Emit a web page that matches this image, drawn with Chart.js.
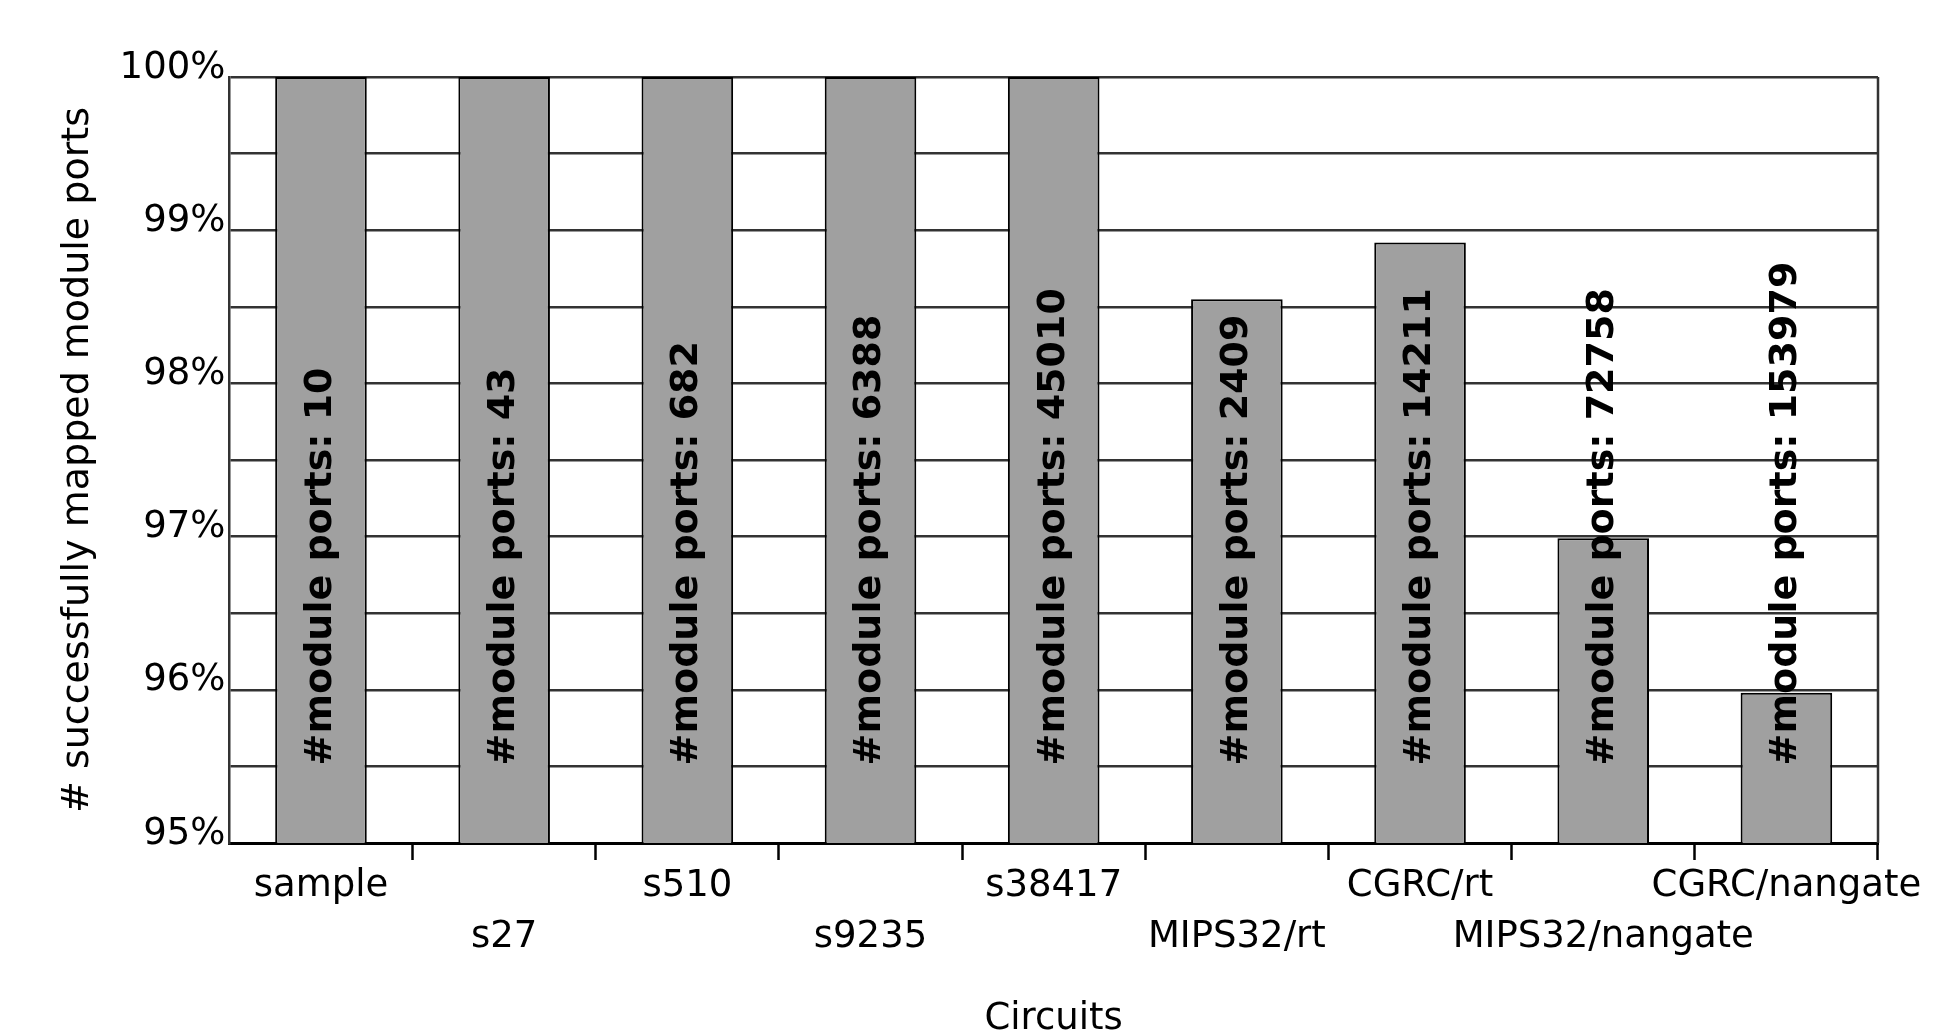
<!DOCTYPE html>
<html>
<head>
<meta charset="utf-8">
<script src="https://cdn.jsdelivr.net/npm/chart.js@4/dist/chart.umd.min.js"></script>
<style>
  body { margin: 0; background: #fff; }
</style>
</head>
<body>
<canvas id="c" width="1936" height="1033"></canvas>
<script>
// data
const circuits = ['sample', 's27', 's510', 's9235', 's38417', 'MIPS32/rt', 'CGRC/rt', 'MIPS32/nangate', 'CGRC/nangate'];
const mappedPct = [100, 100, 100, 100, 100, 98.55, 98.92, 96.99, 95.98];
const modulePorts = [10, 43, 682, 6388, 45010, 2409, 14211, 72758, 153979];

const FONT = 'DejaVu Sans';

// every second label goes on a second line
const xLabels = circuits.map((c, i) => i % 2 === 0 ? [c] : ['', c]);

// right edge of the plot box
const frame = {
  id: 'frame',
  beforeDatasetsDraw(chart) {
    const a = chart.chartArea, ctx = chart.ctx;
    ctx.save();
    ctx.strokeStyle = '#333';
    ctx.lineWidth = 2.5;
    ctx.beginPath();
    ctx.moveTo(a.right, a.top);
    ctx.lineTo(a.right, a.bottom);
    ctx.stroke();
    ctx.restore();
  }
};

// vertical "#module ports: N" text in each bar
const portLabels = {
  id: 'portLabels',
  afterDatasetsDraw(chart) {
    const ctx = chart.ctx;
    const y0 = chart.scales.y.getPixelForValue(95.5) - 1;
    const meta = chart.getDatasetMeta(0);
    ctx.save();
    ctx.fillStyle = '#000';
    ctx.font = 'bold 38px "' + FONT + '"';
    ctx.textAlign = 'left';
    ctx.textBaseline = 'middle';
    meta.data.forEach((bar, i) => {
      ctx.save();
      ctx.translate(bar.x, y0);
      ctx.rotate(-Math.PI / 2);
      ctx.fillText('#module ports: ' + modulePorts[i], 0, 0);
      ctx.restore();
    });
    ctx.restore();
  }
};

new Chart(document.getElementById('c'), {
  type: 'bar',
  data: {
    labels: xLabels,
    datasets: [{
      data: mappedPct,
      backgroundColor: '#a0a0a0',
      borderColor: '#000',
      borderWidth: 2,
      barPercentage: 0.5,
      categoryPercentage: 1.0
    }]
  },
  options: {
    responsive: false,
    animation: false,
    layout: { padding: { left: 55, top: 77, right: 58, bottom: 25 } },
    plugins: { legend: { display: false }, tooltip: { enabled: false } },
    scales: {
      x: {
        grid: {
          drawOnChartArea: false,
          drawTicks: true,
          tickLength: 17,
          tickWidth: 2.5,
          tickColor: c => c.index === 0 ? 'rgba(0,0,0,0)' : '#000'
        },
        border: { color: '#000', width: 3 },
        ticks: {
          autoSkip: false,
          maxRotation: 0,
          minRotation: 0,
          padding: 0,
          color: '#000',
          font: { family: FONT, size: 37, lineHeight: 1.4 }
        },
        title: {
          display: true,
          text: 'Circuits',
          color: '#000',
          padding: { top: 34, bottom: -34 },
          font: { family: FONT, size: 37 }
        }
      },
      y: {
        min: 95,
        max: 100,
        grid: { color: '#333', lineWidth: 2.5, drawTicks: false },
        border: { color: '#333', width: 2.5 },
        ticks: {
          stepSize: 0.5,
          padding: 4,
          labelOffset: -9,
          color: '#000',
          font: { family: FONT, size: 37 },
          callback: v => Number.isInteger(v) ? v + '%' : ''
        },
        title: {
          display: true,
          text: '# successfully mapped module ports',
          color: '#000',
          padding: { top: 0, bottom: 15 },
          font: { family: FONT, size: 38 }
        }
      }
    }
  },
  plugins: [frame, portLabels]
});
</script>
</body>
</html>
